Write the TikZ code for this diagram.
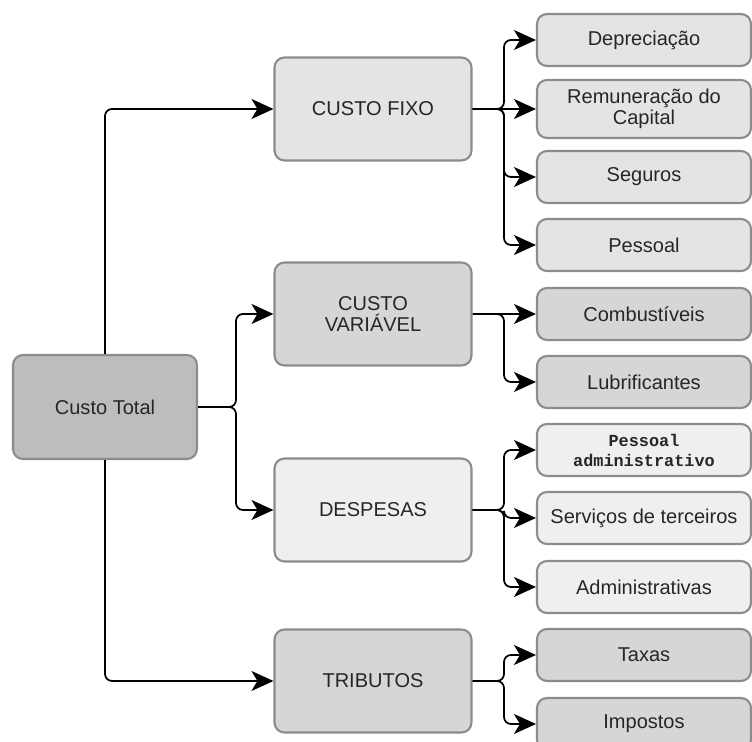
\documentclass[tikz,border=0pt]{standalone}
\usepackage{fontspec}
\setmainfont{Liberation Sans}
\newfontfamily\typefont{Liberation Mono}
\usetikzlibrary{arrows.meta}

\definecolor{boxline}{HTML}{8C8C8C}
\definecolor{totalfill}{HTML}{BDBDBD}
\definecolor{fixofill}{HTML}{E4E4E4}
\definecolor{varfill}{HTML}{D6D6D6}
\definecolor{despfill}{HTML}{EFEFEF}

\tikzset{
    custo/.style={draw=boxline, line width=1.2pt, rounded corners=0.2cm, align=center,
        inner sep=2pt, text=black!85, font=\fontsize{11.4}{11.8}\selectfont},
    grupo/.style={custo, minimum width=3.94cm, minimum height=2.06cm},
    item/.style={custo, minimum width=4.28cm, minimum height=1.04cm}
}

\begin{document}
\begin{tikzpicture}[x=0.02cm, y=-0.02cm, ->, >={Stealth[length=0.44cm,width=0.4cm,inset=0.12cm]},
    line width=1pt, rounded corners=0.14cm]
    \useasboundingbox (0,0) rectangle (752,742);

    \node[grupo, fill=totalfill, minimum width=3.68cm, minimum height=2.08cm] (total) at (105,407) {Custo Total};
    \node[grupo, fill=fixofill] (fixo) at (373,109) {CUSTO FIXO};
    \node[grupo, fill=varfill] (variavel) at (373,314) {CUSTO\\VARIÁVEL};
    \node[grupo, fill=despfill] (despesas) at (373,510) {DESPESAS};
    \node[grupo, fill=varfill] (tributos) at (373,681) {TRIBUTOS};

    % custo fixo
    \node[item, fill=fixofill] (deprec) at (644,40) {Depreciação};
    \node[item, fill=fixofill, minimum height=1.16cm] (remun) at (644,109) {Remuneração do\\Capital};
    \node[item, fill=fixofill] (seguros) at (644,177) {Seguros};
    \node[item, fill=fixofill] (pessoal) at (644,245) {Pessoal};
    % custo variavel
    \node[item, fill=varfill] (combust) at (644,314) {Combustíveis};
    \node[item, fill=varfill] (lubri) at (644,382) {Lubrificantes};
    % despesas
    \node[item, fill=despfill, font=\typefont\bfseries\fontsize{9.6}{11.4}\selectfont] (pessadm) at (644,450) {Pessoal\\administrativo};
    \node[item, fill=despfill] (servicos) at (644,518) {Serviços de terceiros};
    \node[item, fill=despfill] (admin) at (644,587) {Administrativas};
    % tributos
    \node[item, fill=varfill] (taxas) at (644,655) {Taxas};
    \node[item, fill=varfill] (impostos) at (644,724) {Impostos};

    \coordinate (busL) at (236,0);
    \coordinate (busR) at (504,0);

    \draw (total.north) |- (fixo.west);
    \draw (total.south) |- (tributos.west);
    \foreach \grp in {variavel,despesas}
        \draw (total.east) -| (busL |- \grp.west) -- (\grp.west);

    \draw (fixo.east) -- (remun.west);
    \foreach \kid in {deprec,seguros,pessoal}
        \draw (fixo.east) -| (busR |- \kid.west) -- (\kid.west);
    \draw (variavel.east) -- (combust.west);
    \draw (variavel.east) -| (busR |- lubri.west) -- (lubri.west);
    \foreach \kid in {pessadm,servicos,admin}
        \draw (despesas.east) -| (busR |- \kid.west) -- (\kid.west);
    \foreach \kid in {taxas,impostos}
        \draw (tributos.east) -| (busR |- \kid.west) -- (\kid.west);
\end{tikzpicture}
\end{document}
